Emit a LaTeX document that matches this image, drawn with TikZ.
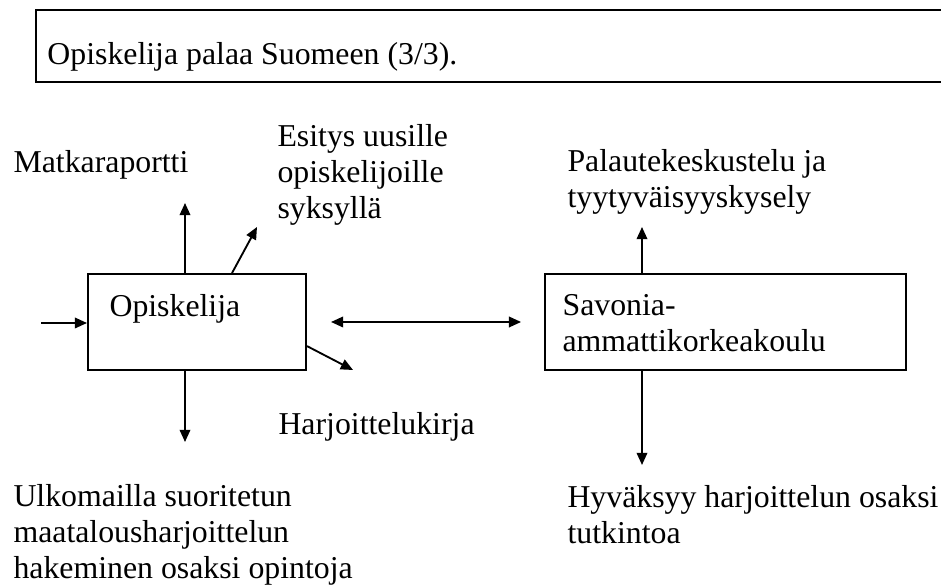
\documentclass[tikz,border=0pt]{standalone}
\usepackage{fontspec}
\setmainfont{Liberation Serif}
\usetikzlibrary{arrows.meta}
\usetikzlibrary{calc}

\begin{document}
\begin{tikzpicture}[x=0.3773pt,y=-0.3773pt,
box/.style={draw,line width=0.7pt,rectangle,inner sep=0pt},
lbl/.style={anchor=base west,inner sep=0pt,align=left,font=\fontsize{12}{13.6}\selectfont},
arr/.style={line width=0.7pt,-{Triangle[length=4.6pt,width=4pt]}},
darr/.style={line width=0.7pt,{Triangle[length=4.6pt,width=4pt]}-{Triangle[length=4.6pt,width=4pt]}}]

\clip (0,0) rectangle (941,586);

% boxes
\node (Top) [box,minimum width=351pt,minimum height=27.2pt] at (501,46) {};
\node (Opisk) [box,minimum width=82.3pt,minimum height=36.2pt] at (197,322) {};
\node (Savo) [box,minimum width=136.2pt,minimum height=36.2pt] at (725.5,322) {};

% base of a node with several lines is its last line
\node (tTop) [lbl] at ($(Top.north west)+(12,55)$) {Opiskelija palaa Suomeen (3/3).};
\node (tOpisk) [lbl] at ($(Opisk.north west)+(22,43)$) {Opiskelija};
\node (tSavo) [lbl] at ($(Savo.north west)+(18,78)$) {Savonia-\\ammattikorkeakoulu};

% labels
\node (Matk) [lbl] at (13,173) {Matkaraportti};
\node (Esit) [lbl] at (277,219) {Esitys uusille\\opiskelijoille\\syksyllä};
\node (Harj) [lbl] at (278,435) {Harjoittelukirja};
\node (Ulko) [lbl] at (13,579) {Ulkomailla suoritetun\\maatalousharjoittelun\\hakeminen osaksi opintoja};
\node (Pala) [lbl] at (567,208) {Palautekeskustelu ja\\tyytyväisyyskysely};
\node (Hyva) [lbl] at (567,544) {Hyväksyy harjoittelun osaksi\\tutkintoa};

% arrow ends
\coordinate (inL) at (41,323);
\coordinate (tMatk) at (185,203);
\coordinate (tEsit) at (257,227);
\coordinate (tHarj) at (353,370);
\coordinate (tUlko) at (185,442);
\coordinate (tPala) at (642,227);
\coordinate (tHyva) at (642,465);

\draw[arr] (inL) -- (inL -| Opisk.west);
\draw[arr] (tMatk |- Opisk.north) -- (tMatk);
\draw[arr] ($(Opisk.north west)+(145,0)$) -- (tEsit);
\draw[arr] ($(Opisk.north east)+(0,73)$) -- (tHarj);
\draw[arr] (tUlko |- Opisk.south) -- (tUlko);
\draw[darr] ($(Opisk.east)+(24,0)$) -- ($(Savo.west)+(-23,0)$);
\draw[arr] (tPala |- Savo.north) -- (tPala);
\draw[arr] (tHyva |- Savo.south) -- (tHyva);
\end{tikzpicture}
\end{document}
